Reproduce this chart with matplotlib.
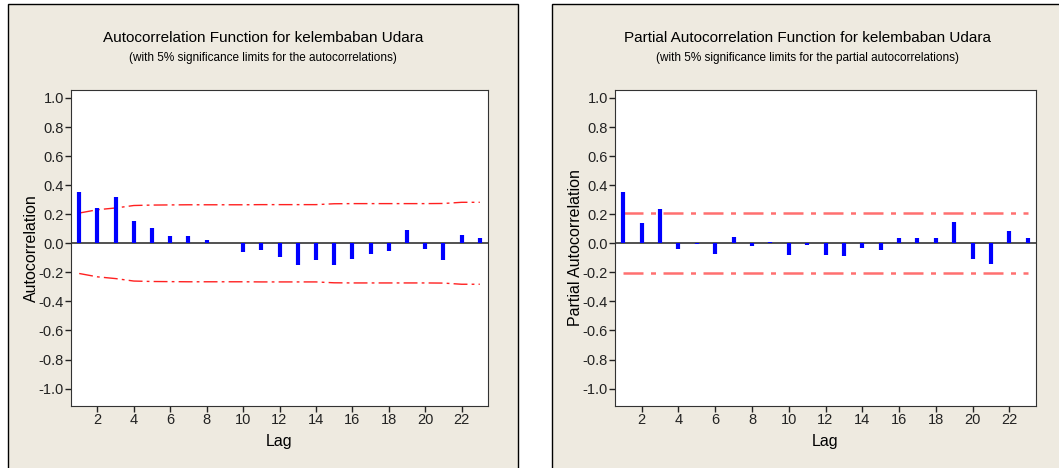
import matplotlib.pyplot as plt
from matplotlib.patches import Rectangle

lags = list(range(1, 24))

acf_values = [0.353, 0.245, 0.320, 0.153, 0.103, 0.050, 0.050, 0.020, 0.003,
              -0.057, -0.048, -0.092, -0.149, -0.115, -0.149, -0.108, -0.073,
              -0.050, 0.094, -0.041, -0.115, 0.060, 0.034]
acf_limits = [0.208, 0.231, 0.243, 0.260, 0.263, 0.264, 0.265, 0.265, 0.265,
              0.265, 0.266, 0.266, 0.266, 0.266, 0.272, 0.273, 0.273, 0.273,
              0.273, 0.273, 0.274, 0.282, 0.282]

pacf_values = [0.353, 0.137, 0.234, -0.041, -0.008, -0.073, 0.040, -0.020, 0.012,
               -0.080, -0.010, -0.080, -0.090, -0.030, -0.048, 0.034, 0.035,
               0.034, 0.144, -0.108, -0.140, 0.085, 0.034]
pacf_limit = 0.208

yticks = [1.0, 0.8, 0.6, 0.4, 0.2, 0.0, -0.2, -0.4, -0.6, -0.8, -1.0]
xticks = list(range(2, 24, 2))

BG = "#EEEAE0"
plt.rcParams["font.family"] = ["Liberation Sans", "DejaVu Sans"]

fig = plt.figure(figsize=(10.59, 4.68), dpi=100)
W, H = 1059, 468


def px_rect(x0, y0, x1, y1):
    return [x0 / W, 1 - y1 / H, (x1 - x0) / W, (y1 - y0) / H]


# panel backgrounds, behind the axes
for x0, x1 in [(8, 518), (552, 1062)]:
    r = px_rect(x0, 4, x1, 472)
    fig.patches.append(Rectangle((r[0], r[1]), r[2], r[3], transform=fig.transFigure,
                                 facecolor=BG, edgecolor="black", lw=1, zorder=-5))


def setup(ax, ylabel):
    ax.set_xlim(0.55, 23.45)
    ax.set_ylim(-1.12, 1.055)
    ax.set_yticks(yticks)
    ax.set_yticklabels([f"{t:.1f}" for t in yticks])
    ax.set_xticks(xticks)
    ax.tick_params(direction="out", length=4, width=1, labelsize=10.5, pad=1,
                   colors="#222222")
    ax.set_xlabel("Lag", fontsize=11.5, labelpad=5)
    ax.set_ylabel(ylabel, fontsize=11.5, labelpad=0)
    ax.axhline(0, color="#333333", lw=1.2, zorder=2)
    for s in ax.spines.values():
        s.set_color("#333333")


ax1 = fig.add_axes(px_rect(71, 90, 488, 406))
ax1.vlines(lags, 0, acf_values, color="#0000FF", lw=3, zorder=3)
ax1.plot(lags, acf_limits, color="#FF2020", lw=1, dashes=(10, 3, 2, 3))
ax1.plot(lags, [-v for v in acf_limits], color="#FF2020", lw=1, dashes=(10, 3, 2, 3))
setup(ax1, "Autocorrelation")

ax2 = fig.add_axes(px_rect(615, 90, 1036, 406))
ax2.vlines(lags, 0, pacf_values, color="#0000FF", lw=3, zorder=3)
ax2.plot([lags[0], lags[-1]], [pacf_limit, pacf_limit], color="#FF7070", lw=1.8,
         dashes=(8, 3, 2, 3))
ax2.plot([lags[0], lags[-1]], [-pacf_limit, -pacf_limit], color="#FF7070", lw=1.8,
         dashes=(8, 3, 2, 3))
setup(ax2, "Partial Autocorrelation")

fig.text(263 / W, 1 - 38 / H, "Autocorrelation Function for kelembaban Udara",
         ha="center", va="center", fontsize=11)
fig.text(263 / W, 1 - 58 / H, "(with 5% significance limits for the autocorrelations)",
         ha="center", va="center", fontsize=8.5)
fig.text(808 / W, 1 - 38 / H, "Partial Autocorrelation Function for kelembaban Udara",
         ha="center", va="center", fontsize=11)
fig.text(808 / W, 1 - 58 / H,
         "(with 5% significance limits for the partial autocorrelations)",
         ha="center", va="center", fontsize=8.5)

fig.savefig("out.png", dpi=100, facecolor="white")
